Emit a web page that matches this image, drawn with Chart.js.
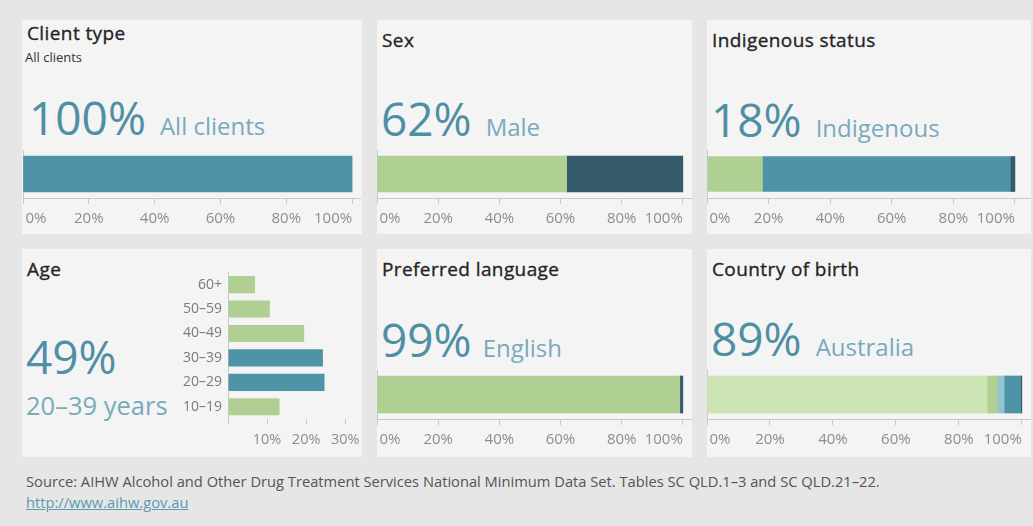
<!DOCTYPE html>
<html lang="en">
  <head>
    <meta charset="UTF-8" />
    <title>Client profile</title>
    <script src="https://cdn.jsdelivr.net/npm/chart.js"></script>
    <style>
      body {
        margin: 0;
        width: 1033px;
        height: 526px;
        background: #e6e6e6;
        font-family: "Open Sans", sans-serif;
        position: relative;
        overflow: hidden;
      }
      .panel {
        position: absolute;
        background: #f4f4f4;
      }
      .title {
        position: absolute;
        left: 5px;
        font-size: 19px;
        letter-spacing: 0.4px;
        font-weight: 400;
        line-height: 1;
        color: #252525;
        -webkit-text-stroke: 0.35px #252525;
        white-space: nowrap;
      }
      .sub {
        position: absolute;
        left: 3px;
        top: 31px;
        font-size: 13px;
        line-height: 1;
        color: #333;
      }
      .big {
        position: absolute;
        left: 4px;
        font-size: 46px;
        line-height: 1;
        color: #4f8fa3;
        white-space: nowrap;
      }
      .big span {
        font-size: 24px;
        color: #78aabb;
        margin-left: 14px;
      }
      .big2 {
        position: absolute;
        left: 4px;
        font-size: 25.5px;
        line-height: 1;
        color: #78aabb;
        white-space: nowrap;
      }
      canvas {
        position: absolute;
      }
      .source {
        position: absolute;
        left: 26px;
        top: 471px;
        font-size: 14.7px;
        line-height: 21px;
        color: #555;
        white-space: nowrap;
      }
      .source a {
        color: #5a9bb0;
      }
    </style>
  </head>
  <body>
    <div class="panel" style="left: 22px; top: 20px; width: 340px; height: 214px">
      <div class="title" style="top: 4px">Client type</div>
      <div class="sub">All clients</div>
      <div class="big" style="top: 74px; left: 7px">100%<span>All clients</span></div>
    </div>
    <div class="panel" style="left: 377px; top: 20px; width: 315px; height: 214px">
      <div class="title" style="top: 11px">Sex</div>
      <div class="big" style="top: 75px">62%<span>Male</span></div>
    </div>
    <div class="panel" style="left: 707px; top: 20px; width: 324px; height: 214px">
      <div class="title" style="top: 11px">Indigenous status</div>
      <div class="big" style="top: 76px">18%<span>Indigenous</span></div>
    </div>
    <div class="panel" style="left: 22px; top: 249px; width: 340px; height: 208px">
      <div class="title" style="top: 11px">Age</div>
      <div class="big" style="top: 84px">49%</div>
      <div class="big2" style="top: 144px">20–39 years</div>
    </div>
    <div class="panel" style="left: 377px; top: 249px; width: 315px; height: 208px">
      <div class="title" style="top: 11px">Preferred language</div>
      <div class="big" style="top: 67px">99%<span style="margin-left: 11px">English</span></div>
    </div>
    <div class="panel" style="left: 707px; top: 249px; width: 324px; height: 208px">
      <div class="title" style="top: 11px">Country of birth</div>
      <div class="big" style="top: 66px">89%<span>Australia</span></div>
    </div>

    <canvas id="clientChart" style="left: 17px; top: 140px" width="345" height="94"></canvas>
    <canvas id="sexChart" style="left: 371px; top: 140px" width="321" height="94"></canvas>
    <canvas id="indigChart" style="left: 701px; top: 140px" width="330" height="94"></canvas>
    <canvas id="ageChart" style="left: 170px; top: 258px" width="197" height="197"></canvas>
    <canvas id="langChart" style="left: 371px; top: 360px" width="321" height="95"></canvas>
    <canvas id="countryChart" style="left: 701px; top: 360px" width="330" height="95"></canvas>

    <div class="source">
      Source: AIHW Alcohol and Other Drug Treatment Services National Minimum Data Set. Tables SC QLD.1–3 and SC QLD.21–22.<br />
      <a href="http://www.aihw.gov.au">http://www.aihw.gov.au</a>
    </div>

    <script>
      // shares of clients, per cent
      const clientLabels = ["All clients"];
      const clientValues = [100];

      const sexLabels = ["Male", "Female"];
      const sexValues = [62, 38];

      const indigLabels = ["Indigenous", "Non-Indigenous", "Not stated"];
      const indigValues = [18, 80.5, 1.5];

      const langLabels = ["English", "Other"];
      const langValues = [99, 1];

      const countryLabels = [
        "Australia",
        "Other English-speaking",
        "Non-English-speaking",
        "Other",
        "Not stated",
      ];
      const countryValues = [89, 3.3, 2.1, 5.2, 0.4];

      const ageGroups = ["60+", "50–59", "40–49", "30–39", "20–29", "10–19"];
      const ageValues = [6.9, 10.7, 19.5, 24.3, 24.7, 13.2];
      const ageHighlight = ["30–39", "20–29"];

      const TEAL = "#4f93a7";
      const GREEN = "#b0d093";
      const DARK = "#355a6c";
      const PALE_GREEN = "#cde4b4";
      const LIGHT_BLUE = "#93c4d2";
      const AXIS = "#c9c9c9";
      const TICK_TEXT = "#8d8d8d";
      const FONT = "'Open Sans', sans-serif";

      Chart.defaults.font.family = FONT;
      Chart.defaults.animation = false;
      Chart.defaults.plugins.legend.display = false;
      Chart.defaults.plugins.tooltip.enabled = false;

      // one stacked 100% bar with a percentage axis underneath
      function stackBar(id, labels, values, colors, max, pad, thickness) {
        new Chart(document.getElementById(id), {
          type: "bar",
          data: {
            labels: [""],
            datasets: labels.map((label, i) => ({
              label: label,
              data: [values[i]],
              backgroundColor: colors[i],
              barThickness: thickness,
            })),
          },
          options: {
            indexAxis: "y",
            responsive: false,
            layout: { padding: pad },
            scales: {
              x: {
                stacked: true,
                min: 0,
                max: max,
                grid: {
                  drawOnChartArea: false,
                  tickLength: 6,
                  color: AXIS,
                },
                border: { color: AXIS },
                ticks: {
                  stepSize: 20,
                  includeBounds: false,
                  align: "inner",
                  padding: 6,
                  color: TICK_TEXT,
                  font: { size: 15 },
                  maxRotation: 0,
                  // small lead-in so the first label clears the axis line
                  callback: (v) => (v === 0 ? "\u2009" + v + "%" : v + "%"),
                },
                afterFit: (s) => {
                  s.height = 36;
                },
              },
              y: {
                stacked: true,
                ticks: { display: false },
                grid: { display: false, drawTicks: false },
                border: { color: AXIS },
                afterFit: (s) => {
                  s.width = 0;
                },
              },
            },
          },
        });
      }

      stackBar("clientChart", clientLabels, clientValues, [TEAL], 102.4,
        { left: 0, right: 2, top: 10 }, 36);
      stackBar("sexChart", sexLabels, sexValues, [GREEN, DARK], 103,
        { left: 0, right: 0, top: 10 }, 36);
      stackBar("indigChart", indigLabels, indigValues, [GREEN, TEAL, DARK], 104.9,
        { left: 0, right: 1, top: 10 }, 35);
      stackBar("langChart", langLabels, langValues, [GREEN, DARK], 103,
        { left: 0, right: 0, top: 10 }, 37);
      stackBar("countryChart", countryLabels, countryValues,
        [PALE_GREEN, GREEN, LIGHT_BLUE, TEAL, DARK], 102.6,
        { left: 0, right: 1, top: 10 }, 37);

      // age distribution, 20–39 highlighted
      new Chart(document.getElementById("ageChart"), {
        type: "bar",
        data: {
          labels: ageGroups,
          datasets: [
            {
              label: "Age",
              data: ageValues,
              backgroundColor: ageGroups.map((g) =>
                ageHighlight.includes(g) ? TEAL : GREEN
              ),
              barPercentage: 0.7,
              categoryPercentage: 1,
            },
          ],
        },
        options: {
          indexAxis: "y",
          responsive: false,
          layout: { padding: { top: 10, right: 5 } },
          scales: {
            x: {
              min: 0,
              max: 33.5,
              grid: {
                drawOnChartArea: false,
                tickLength: 5,
                color: AXIS,
              },
              border: { display: false },
              ticks: {
                stepSize: 10,
                includeBounds: false,
                padding: 7,
                color: TICK_TEXT,
                font: { size: 14.5 },
                maxRotation: 0,
                callback: (v) => (v === 0 ? "" : v + "%"),
              },
              afterFit: (s) => {
                s.height = 36;
              },
            },
            y: {
              grid: { display: false, drawTicks: false },
              border: { color: AXIS },
              ticks: {
                padding: 6,
                color: "#7a7a7a",
                font: { size: 14 },
              },
              afterFit: (s) => {
                s.width = 58;
              },
            },
          },
        },
      });
    </script>
  </body>
</html>
